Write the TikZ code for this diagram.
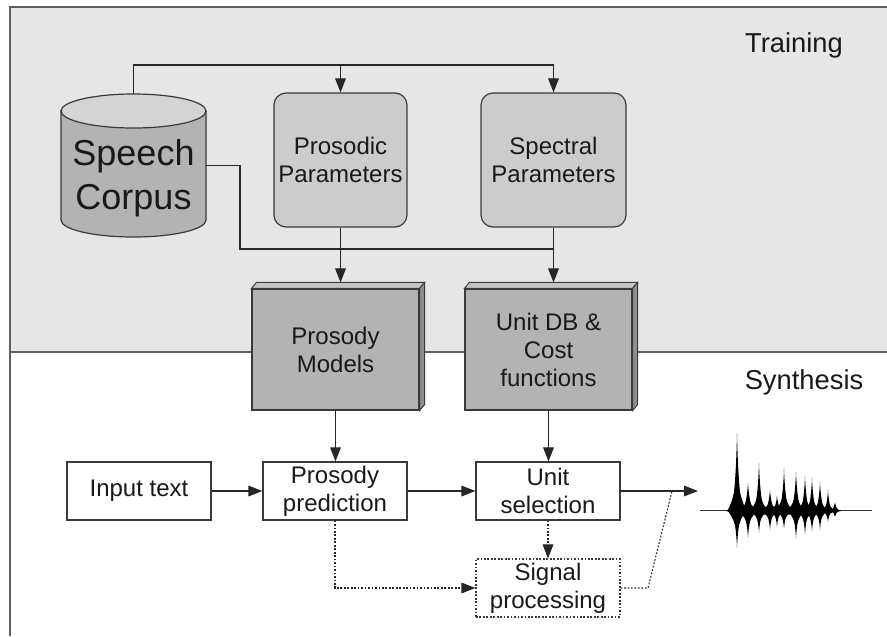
\documentclass[tikz,border=0pt]{standalone}
\usepackage{fontspec}
\setmainfont{Liberation Sans}
\usetikzlibrary{arrows.meta}
\definecolor{panel}{HTML}{E6E6E6}
\definecolor{paramfill}{HTML}{CCCCCC}
\definecolor{modelfill}{HTML}{B3B3B3}
\definecolor{modeltop}{HTML}{C4C4C4}
\definecolor{modelside}{HTML}{8E8E8E}
\definecolor{cyltop}{HTML}{D4D4D4}
\definecolor{edge}{HTML}{3A3A3A}
\definecolor{framecol}{HTML}{606060}

% one burst of the speech waveform: centre x, height above, depth below, half width
\newcommand\wvburst[4]{%
  \fill ({#1-#4},510.7)
    .. controls ({#1-0.45*#4},{510.7-0.25*#2}) and ({#1-0.12*#4},{510.7-0.6*#2}) .. (#1,{510.7-#2})
    .. controls ({#1+0.12*#4},{510.7-0.6*#2}) and ({#1+0.45*#4},{510.7-0.25*#2}) .. ({#1+#4},510.7)
    .. controls ({#1+0.45*#4},{510.7+0.25*#3}) and ({#1+0.12*#4},{510.7+0.6*#3}) .. (#1,{510.7+#3})
    .. controls ({#1-0.12*#4},{510.7+0.6*#3}) and ({#1-0.45*#4},{510.7+0.25*#3}) .. cycle;}
% a burst: sharp peak over a broader body
\newcommand\wvpulse[4]{%
  \wvburst{#1}{#2}{#3}{#4}%
  \wvburst{#1}{0.5*#2}{0.65*#3}{1.9*#4}}

\tikzset{
  txt/.style={font=\fontsize{18}{21}\selectfont, align=center, text=black!90},
  parambox/.style={txt, draw=edge, line width=0.9pt, fill=paramfill, rounded corners=9pt,
    minimum height=100.5pt},
  modelbox/.style={txt, draw=edge, line width=0.9pt, fill=modelfill,
    minimum width=125.25pt, minimum height=90.75pt},
  procbox/.style={txt, draw=edge, line width=0.9pt, fill=white,
    minimum width=108pt, minimum height=43.5pt, inner sep=1pt},
  dotbox/.style={procbox, dash pattern=on 1.3pt off 1.3pt},
  tip/.style={-{Triangle[length=10.5pt,width=8pt]}},
  arr/.style={draw=black!85, line width=0.8pt, tip},
  conn/.style={draw=black!85, line width=0.8pt},
  dotline/.style={dash pattern=on 1.3pt off 1.3pt},
  phase/.style={font=\fontsize{20.5}{24}\selectfont, text=black!90},
}

\begin{document}
\begin{tikzpicture}[x=0.75pt,y=-0.75pt]
\useasboundingbox (0,0) rectangle (887,636);

% panels
\fill[panel] (10,7) rectangle (887,352);
\draw[framecol, line width=1.1pt] (887,7) -- (10,7) -- (10,636);
\draw[framecol, line width=1.1pt] (10,352) -- (887,352);

\node[phase] (training) at (794,45) {Training};
\node[phase] (synthesis) at (804,382) {Synthesis};

% speech corpus cylinder
\node[minimum width=108.75pt, minimum height=107.25pt, inner sep=0pt] (corpus) at (133.5,165.5) {};
\filldraw[fill=modelfill, draw=edge, line width=0.9pt]
  (61,111) -- (61,220) arc[start angle=180, end angle=360, x radius=54.375pt, y radius=12.75pt]
  -- (206,111) -- cycle;
\filldraw[fill=cyltop, draw=edge, line width=0.9pt]
  (133.5,111) ellipse [x radius=54.375pt, y radius=12.75pt];
\node[align=center, font=\fontsize{27}{33}\selectfont, text=black!90] (corpustxt) at (133.5,178) {Speech\\Corpus};

% parameter boxes
\node[parambox, minimum width=99.75pt] (pp) at (340.5,160) {Prosodic\\Parameters};
\node[parambox, minimum width=108.75pt] (sp) at (553.5,160) {Spectral\\Parameters};

% models (raised blocks)
\node[modelbox] (pm) at (335.5,349.5) {Prosody\\Models};
\node[modelbox] (udb) at (548.5,349.5) {Unit DB \&\\Cost\\functions};
\foreach \b in {pm,udb}{
  \filldraw[fill=modeltop, draw=edge, line width=0.7pt]
    (\b.north west) -- ([shift={(5,-6)}]\b.north west) -- ([shift={(5,-6)}]\b.north east) -- (\b.north east) -- cycle;
  \filldraw[fill=modelside, draw=edge, line width=0.7pt]
    (\b.north east) -- ([shift={(5,-6)}]\b.north east) -- ([shift={(5,-6)}]\b.south east) -- (\b.south east) -- cycle;
}
\coordinate (pmtop) at ([shift={(0,-6)}]pm.north);
\coordinate (udbtop) at ([shift={(0,-6)}]udb.north);

% synthesis chain
\node[procbox] (input) at (139,491) {Input text};
\node[procbox] (ppred) at (335,491) {Prosody\\prediction};
\node[procbox] (usel) at (548,491) {Unit\\selection};
\node[dotbox] (sigp) at (548,588) {Signal\\processing};

% training connectors
\coordinate (bus) at (133.5,65);
\coordinate (bustwo) at (240,249);
\draw[arr] (corpus.north) -- (corpus.north |- bus) -| (sp.north);
\draw[arr] (pp.north |- bus) -- (pp.north);
\draw[conn] (corpus.east) -| (bustwo) -- (sp.south |- bustwo);
\draw[arr] (pp.south) -- (pp.south |- pmtop);
\draw[arr] (sp.south) -- (sp.south |- udbtop);

% synthesis connectors
\draw[arr] (pm.south) -- (pm.south |- ppred.north);
\draw[arr] (udb.south) -- (udb.south |- usel.north);
\draw[arr] (input) -- (ppred);
\draw[arr] (ppred) -- (usel);
\coordinate (wavein) at (698,491);
\coordinate (joint) at (672,491);
\coordinate (bend) at (648,588);
\draw[arr] (usel.east) -- (wavein);
\draw[conn, dotline, tip] (usel.south) -- (sigp.north);
\draw[conn, dotline, tip] (ppred.south) |- (sigp.west);
\draw[conn, dotline] (sigp.east) -- (bend) -- (joint);

% output waveform
\draw[black!80, line width=0.5pt] (700,510.7) -- (872,510.7);
\fill[black] (726,510.7) .. controls (730,505) and (825,505) .. (842,510.7)
  .. controls (825,516) and (730,516) .. cycle;
\wvpulse{737}{78}{37}{5}
\wvpulse{748}{28}{27}{5}
\wvpulse{759}{48}{22}{4.5}
\wvpulse{770}{21}{19}{4.5}
\wvpulse{777}{15}{16}{4}
\wvpulse{784}{42}{18}{4.5}
\wvpulse{796}{39}{28}{4.5}
\wvpulse{805}{35}{24}{4}
\wvpulse{812}{33}{21}{4}
\wvpulse{820}{29}{19}{4}
\wvpulse{828}{21}{11}{3.5}
\wvburst{835}{8}{6}{4}
\end{tikzpicture}
\end{document}
